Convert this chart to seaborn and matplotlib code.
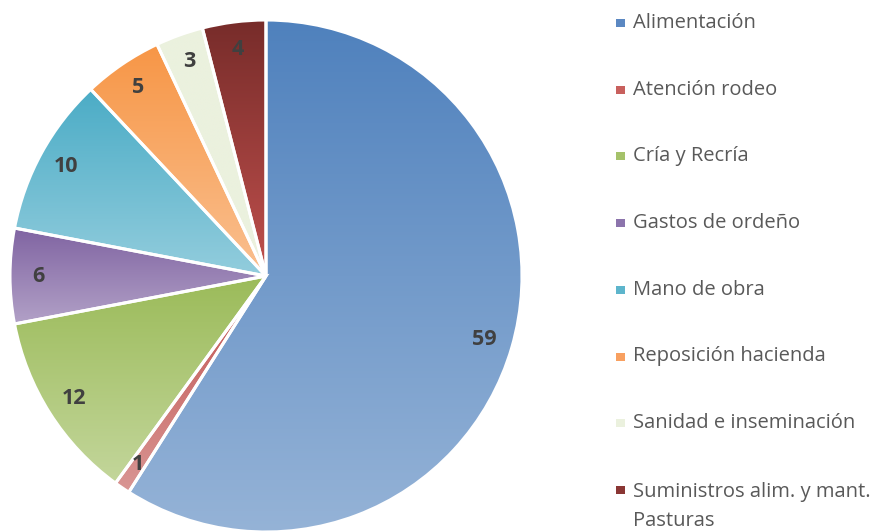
import matplotlib
matplotlib.use("Agg")
import matplotlib.pyplot as plt
import seaborn as sns
import numpy as np
from matplotlib.colors import LinearSegmentedColormap
from matplotlib.patches import Rectangle

# Data
categories = ["Alimentación", "Atención rodeo", "Cría y Recría", "Gastos de ordeño",
              "Mano de obra", "Reposición hacienda", "Sanidad e inseminación",
              "Suministros alim. y mant.\nPasturas"]
values = [59, 1, 12, 6, 10, 5, 3, 4]

# gradient colours per slice (top -> bottom)
top_colors = ["#4F81BD", "#C0504D", "#9BBB59", "#8064A2", "#4BACC6", "#F79646", "#EBF1DE", "#772C2A"]
bottom_colors = ["#95B3D7", "#D99694", "#C3D69B", "#B2A1C7", "#93CDDD", "#FAC090", "#EBF1DE", "#C0504D"]
legend_colors = ["#5B88C2", "#C8605D", "#A5C26A", "#8C74AC", "#5DB5CC", "#F8A060", "#EBF1DE", "#8A3634"]

sns.set_style("white")
plt.rcParams["font.family"] = ["Open Sans", "DejaVu Sans"]

W, H = 878, 531
fig = plt.figure(figsize=(W / 100, H / 100), dpi=100)
ax = fig.add_axes([10 / W, -1 / H, 512 / W, 512 / H])

wedges, texts, autotexts = ax.pie(
    values,
    startangle=90,
    counterclock=False,
    colors=top_colors,
    autopct="%.0f",
    pctdistance=0.89,
    wedgeprops=dict(edgecolor="white", linewidth=2.2),
    textprops=dict(fontsize=15.5, fontweight="bold", color="#404040"),
)

# vertical gradient fill clipped to each wedge
grad = np.linspace(0, 1, 256)[:, None]
for w, c0, c1 in zip(wedges, top_colors, bottom_colors):
    bb = w.get_path().get_extents()
    cmap = LinearSegmentedColormap.from_list("g", [c0, c1])
    im = ax.imshow(grad, cmap=cmap, extent=[bb.x0, bb.x1, bb.y0, bb.y1],
                   origin="upper", aspect="auto", zorder=0.5, interpolation="bilinear")
    im.set_clip_path(w)
    w.set_facecolor("none")

ax.set_xlim(-1, 1)
ax.set_ylim(-1, 1)
ax.axis("off")

# legend on the right
for i, (lab, c) in enumerate(zip(categories, legend_colors)):
    base = 28 + 66.7 * i
    nlines = lab.count("\n")
    fig.add_artist(Rectangle((616 / W, 1 - (base - 1) / H), 9 / W, 8 / H,
                             transform=fig.transFigure, facecolor=c, edgecolor="none"))
    fig.text(633 / W, 1 - (base + 31 * nlines) / H, lab, fontsize=14.5, color="#595959",
             va="baseline", ha="left", linespacing=1.6)

fig.savefig("out.png", dpi=100)
